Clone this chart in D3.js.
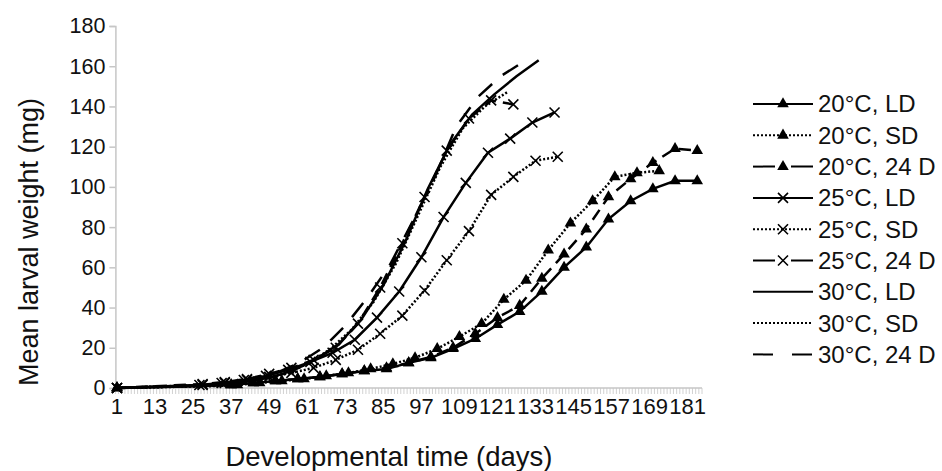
<!DOCTYPE html>
<html>
<head>
<meta charset="utf-8">
<script src="https://cdn.jsdelivr.net/npm/d3@7"></script>
<style>
  body { margin: 0; background: #fff; }
  svg { display: block; font-family: "Liberation Sans", Arial, sans-serif; }
</style>
</head>
<body>
<svg id="chart"></svg>
<script>
// ───────────────── DATA ─────────────────
const SERIES = [
  "20°C, LD", "20°C, SD", "20°C, 24 D",
  "25°C, LD", "25°C, SD", "25°C, 24 D",
  "30°C, LD", "30°C, SD", "30°C, 24 D"
];

const DAYS_20_LD  = [1, 37, 44, 51, 58, 65, 72, 79, 86, 93, 100, 107, 114, 121, 128, 135, 142, 149, 156, 163, 170, 177, 184];
const W_20_LD     = [0, 1.5, 2.5, 3.5, 4.5, 5.5, 7, 8.5, 9.5, 12.5, 15, 19.5, 24.5, 31.5, 38, 48, 60, 70, 84, 93, 99, 103, 103];

const DAYS_20_SD  = [1, 39, 46, 53, 60, 67, 74, 81, 88, 95, 102, 109, 116, 123, 130, 137, 144, 151, 158, 165, 172];
const W_20_SD     = [0, 1.5, 2.5, 3.5, 4.5, 6, 7.5, 9.5, 12, 15, 19.5, 25.5, 32, 44, 53.5, 68.5, 82, 93, 105, 107, 108];

const DAYS_20_24D = [1, 37, 44, 51, 58, 65, 72, 79, 86, 93, 100, 107, 114, 121, 128, 135, 142, 149, 156, 163, 170, 177, 184];
const W_20_24D    = [0, 1.5, 2.5, 3.5, 4.5, 5.5, 7, 8.5, 10, 12.5, 15.5, 20, 27, 35, 41, 54.5, 66.5, 79, 95, 104, 112, 119, 118];

const DAYS_25_LD  = [1, 27, 34, 41, 48, 55, 62, 69, 76, 83, 90, 97, 104, 111, 118, 125, 132, 139];
const W_25_LD     = [0, 1.5, 2.5, 4, 6, 9, 13, 17.5, 24, 35, 48, 65, 85, 102, 117, 124, 132, 137];

const DAYS_25_SD  = [1, 28, 35, 42, 49, 56, 63, 70, 77, 84, 91, 98, 105, 112, 119, 126, 133, 140];
const W_25_SD     = [0, 1.5, 2.5, 4, 5.5, 7.5, 10, 14, 19, 27, 36, 48.5, 63.5, 78, 96, 105, 113, 115];

const DAYS_25_24D = [1, 28, 35, 42, 49, 56, 63, 70, 77, 84, 91, 98, 105, 112, 119, 126];
const W_25_24D    = [0, 2, 3, 4.5, 7, 10, 14, 20, 32, 50, 72, 95, 118, 134, 143, 141];

const DAYS_30_LD  = [1, 29, 36, 43, 50, 57, 64, 71, 78, 85, 92, 99, 106, 113, 120, 127, 134];
const W_30_LD     = [0, 1, 2, 3.5, 5.5, 9, 14.5, 22, 34, 51, 73, 99, 121, 136, 146, 155, 163];

const DAYS_30_SD  = [1, 33, 40, 47, 54, 61, 68, 75, 82, 89, 96, 103, 110, 117, 124];
const W_30_SD     = [0, 1, 2, 4, 7, 12, 19, 29, 43, 62, 86, 110, 129, 140, 147];

const DAYS_30_24D = [1, 31, 38, 45, 52, 59, 66, 73, 80, 87, 94, 101, 108, 115, 122, 129];
const W_30_24D    = [0, 1.5, 3, 5, 8, 13, 20, 31, 45, 61, 82, 104, 130, 145, 155, 162];

const X_TICKS = [1, 13, 25, 37, 49, 61, 73, 85, 97, 109, 121, 133, 145, 157, 169, 181];
const Y_TICKS = [0, 20, 40, 60, 80, 100, 120, 140, 160, 180];

const ALL_DAYS = [DAYS_20_LD, DAYS_20_SD, DAYS_20_24D, DAYS_25_LD, DAYS_25_SD, DAYS_25_24D, DAYS_30_LD, DAYS_30_SD, DAYS_30_24D];
const ALL_W    = [W_20_LD, W_20_SD, W_20_24D, W_25_LD, W_25_SD, W_25_24D, W_30_LD, W_30_SD, W_30_24D];

// line style + marker per series
const STYLE = [
  { dash: null,      mark: "tri" },
  { dash: "2,2",     mark: "tri" },
  { dash: "12,7",    mark: "tri" },
  { dash: null,      mark: "x" },
  { dash: "2,2",     mark: "x" },
  { dash: "12,7",    mark: "x" },
  { dash: null,      mark: null },
  { dash: "2,2",     mark: null },
  { dash: "18,14",   mark: null }
];

// ───────────────── SIZE ─────────────────
const W = 942, H = 471;

const svg = d3.select("#chart")
  .attr("width", W)
  .attr("height", H)
  .attr("viewBox", `0 0 ${W} ${H}`);

const x = d3.scaleLinear().domain([0.5, 185.5]).range([115.4, 702]);
const y = d3.scaleLinear().domain([0, 180]).range([388, 26]);

const AXIS_GRAY = "#c6c6c6";

// ───── Y AXIS ─────
const yAxis = svg.append("g")
  .attr("transform", `translate(${x.range()[0]},0)`)
  .call(d3.axisLeft(y).tickValues(Y_TICKS).tickSize(6).tickPadding(4));

yAxis.select(".domain").attr("stroke", AXIS_GRAY).attr("stroke-width", 1.5);
yAxis.selectAll(".tick line").attr("stroke", AXIS_GRAY).attr("stroke-width", 1.5);
yAxis.selectAll("text")
  .attr("fill", "#111")
  .style("font-size", "21.5px")
  .style("font-family", "Liberation Sans, Arial, sans-serif");

// ───── X AXIS ─────
const xAxis = svg.append("g").attr("transform", `translate(0,${y(0)})`);

xAxis.append("line")
  .attr("x1", x.range()[0]).attr("x2", x.range()[1])
  .attr("stroke", AXIS_GRAY).attr("stroke-width", 1.5);

// one minor tick per day (category boundaries)
xAxis.selectAll(".minor")
  .data(d3.range(0.5, 186, 1))
  .join("line")
  .attr("class", "minor")
  .attr("x1", d => x(d)).attr("x2", d => x(d))
  .attr("y1", 0).attr("y2", 6)
  .attr("stroke", AXIS_GRAY).attr("stroke-width", 0.8);

xAxis.selectAll(".lbl")
  .data(X_TICKS)
  .join("text")
  .attr("class", "lbl")
  .attr("x", d => x(d))
  .attr("y", 26)
  .attr("text-anchor", "middle")
  .attr("fill", "#111")
  .style("font-size", "22px")
  .text(d => d);

// ───── AXIS TITLES ─────
svg.append("text")
  .attr("x", 389)
  .attr("y", 466)
  .attr("text-anchor", "middle")
  .attr("fill", "#111")
  .style("font-size", "27.5px")
  .text("Developmental time (days)");

svg.append("text")
  .attr("transform", "translate(38,242) rotate(-90)")
  .attr("text-anchor", "middle")
  .attr("fill", "#111")
  .style("font-size", "27px")
  .text("Mean larval weight (mg)");

// ───── LINES + MARKERS ─────
const line = d3.line()
  .x(d => x(d.day))
  .y(d => y(d.w));

const triPath = d3.symbol().type(d3.symbolTriangle).size(58)();
const xPath = "M-5,-5L5,5M-5,5L5,-5";

const plot = svg.append("g");

SERIES.forEach((name, i) => {
  const pts = ALL_DAYS[i].map((d, k) => ({ day: d, w: ALL_W[i][k] }));
  const st = STYLE[i];

  plot.append("path")
    .datum(pts)
    .attr("fill", "none")
    .attr("stroke", "#000")
    .attr("stroke-width", 2.5)
    .attr("stroke-dasharray", st.dash)
    .attr("d", line);

  if (st.mark === "tri") {
    plot.selectAll(null)
      .data(pts)
      .join("path")
      .attr("transform", d => `translate(${x(d.day)},${y(d.w)})`)
      .attr("d", triPath)
      .attr("fill", "#000");
  } else if (st.mark === "x") {
    plot.selectAll(null)
      .data(pts)
      .join("path")
      .attr("transform", d => `translate(${x(d.day)},${y(d.w)})`)
      .attr("d", xPath)
      .attr("fill", "none")
      .attr("stroke", "#000")
      .attr("stroke-width", 1.6);
  }
});

// ───── LEGEND ─────
const LEG_DASH = [null, "2,2", "22,16", null, "2,2", "22,16", null, "2,2", "20,19"];

const legend = svg.append("g").attr("transform", "translate(753,104)");

SERIES.forEach((name, i) => {
  const row = legend.append("g").attr("transform", `translate(0,${i * 31.3})`);
  const st = STYLE[i];

  row.append("line")
    .attr("x1", 0).attr("x2", 60)
    .attr("stroke", "#000")
    .attr("stroke-width", 2)
    .attr("stroke-dasharray", LEG_DASH[i]);

  if (st.mark === "tri") {
    row.append("path").attr("transform", "translate(30,0)").attr("d", triPath).attr("fill", "#000");
  } else if (st.mark === "x") {
    row.append("path").attr("transform", "translate(30,0)").attr("d", xPath)
      .attr("fill", "none").attr("stroke", "#000").attr("stroke-width", 1.6);
  }

  row.append("text")
    .attr("x", 65)
    .attr("dy", "0.35em")
    .attr("fill", "#111")
    .style("font-size", "24px")
    .text(name);
});
</script>
</body>
</html>
